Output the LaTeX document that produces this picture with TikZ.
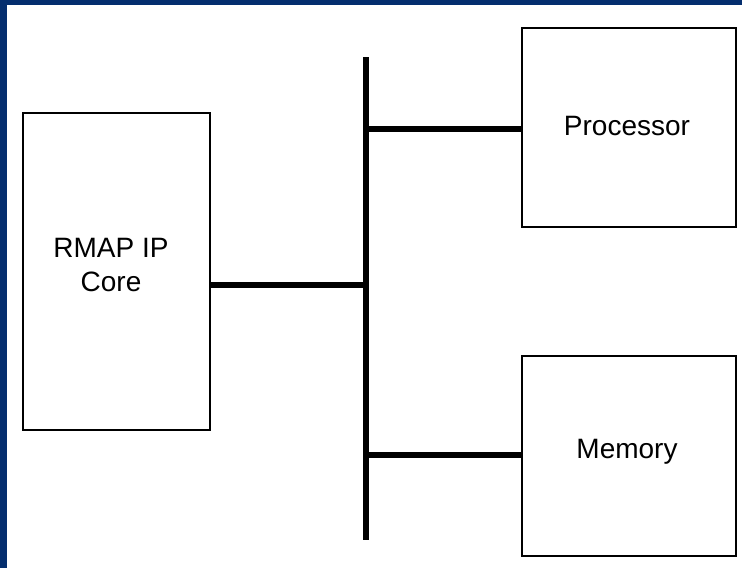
\documentclass[tikz,border=0pt]{standalone}
\usepackage{fontspec}
\setmainfont{Liberation Sans}
\definecolor{framenavy}{RGB}{4,46,110}
\tikzset{
  blockbox/.style={draw=black, line width=2pt, fill=white, inner sep=0pt},
  blocktext/.style={align=center, font=\fontsize{21}{25.5}\selectfont, inner sep=0pt},
  busline/.style={draw=black, line width=3.8pt},
  link/.style={draw=black, line width=3.8pt}
}
\begin{document}
\begin{tikzpicture}[x=0.75pt, y=-0.75pt]
  \useasboundingbox (0,0) rectangle (742,568);
  % frame strips along the left and top edges
  \fill[framenavy] (0,0) rectangle (6.5,568);
  \fill[framenavy] (0,0) rectangle (742,4.5);

  % blocks
  \node[blockbox, minimum width=140.25pt, minimum height=237.75pt] (rmap) at (116.5,271.5) {};
  \node[blocktext] (rmaptext) at (111,265) {RMAP IP\\Core};
  \node[blockbox, minimum width=160.5pt, minimum height=149.25pt] (cpu) at (629,127.5) {};
  \node[blocktext] (cputext) at (627,126) {Processor};
  \node[blockbox, minimum width=160.5pt, minimum height=150pt] (mem) at (629,456) {};
  \node[blocktext] (memtext) at (627,452) {Memory};

  % shared bus
  \coordinate (bustop) at (366,57);
  \coordinate (busbot) at (366,540);
  \draw[busline] (bustop) -- (busbot);

  % taps on the bus
  \coordinate (tapcpu) at (366,129);
  \coordinate (taprmap) at (366,285);
  \coordinate (tapmem) at (366,455);
  \draw[link] (rmap.east |- taprmap) -- (taprmap);
  \draw[link] (tapcpu) -- (cpu.west |- tapcpu);
  \draw[link] (tapmem) -- (mem.west |- tapmem);
\end{tikzpicture}
\end{document}
